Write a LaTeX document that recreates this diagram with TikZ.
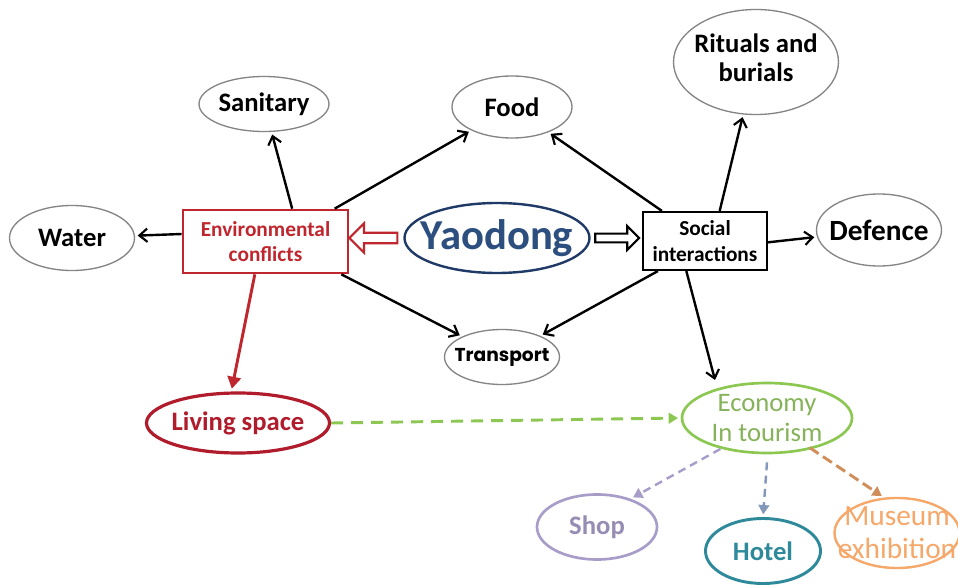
\documentclass[tikz,border=0pt]{standalone}
\usepackage{fontspec}
\setmainfont{Carlito}
\newfontfamily\gothic{Poppins}
\usetikzlibrary{shapes.geometric,shapes.arrows,arrows.meta}
\definecolor{envred}{HTML}{C0262E}
\definecolor{livred}{HTML}{B01C2C}
\definecolor{yaoblue}{HTML}{1F3A66}
\definecolor{yaotext}{HTML}{2C4F80}
\definecolor{ecogreen}{HTML}{8CC751}
\definecolor{ecotext}{HTML}{86B35A}
\definecolor{shopc}{HTML}{A89CC8}
\definecolor{hotelc}{HTML}{2E8A9A}
\definecolor{museumc}{HTML}{F5A86A}
\definecolor{ellgray}{HTML}{858585}
\tikzset{
  ell/.style={ellipse, draw=ellgray, line width=1pt, inner sep=0pt},
  lbl/.style={font=\fontsize{20pt}{22pt}\selectfont\bfseries, align=center, inner sep=0pt},
  conn/.style={line width=1.8pt, -{Straight Barb[length=6pt,width=10pt,line width=1.6pt]}, shorten >=2pt},
  dconn/.style={line width=2.2pt, dash pattern=on 9pt off 6pt, -{Triangle[length=7pt,width=8pt]}, shorten >=2pt},
}
\begin{document}
\begin{tikzpicture}[x=0.75pt,y=-0.75pt]
\useasboundingbox (0,0) rectangle (958,585);
\fill[white] (0,0) rectangle (958,585);
% top nodes
\node[ell, minimum width=97.5pt, minimum height=41.25pt, label={[lbl]center:Sanitary}] (san) at (264,104) {};
\node[ell, minimum width=90pt, minimum height=46.5pt, label={[lbl]center:Food}] (food) at (512,107) {};
\node[ell, minimum width=123.75pt, minimum height=78.75pt, label={[lbl,yshift=3pt]center:Rituals and\\burials}] (rit) at (756,62) {};
\node[ell, minimum width=93.75pt, minimum height=48.75pt, label={[lbl]center:Water}] (water) at (72,238) {};
\node[ell, minimum width=93.75pt, minimum height=54pt, label={[lbl,font=\fontsize{22pt}{24pt}\selectfont\bfseries]center:Defence}] (def) at (879,230) {};
\node[ell, minimum width=86.25pt, minimum height=41.25pt, label={[lbl,font=\gothic\fontsize{14pt}{16pt}\selectfont\bfseries]center:Transport}] (trans) at (502,357) {};
% central nodes
\node[draw=envred, line width=2pt, minimum width=123.75pt, minimum height=47.25pt, inner sep=0pt,
      label={[lbl,font=\fontsize{16pt}{19pt}\selectfont\bfseries,text=envred]center:Environmental\\conflicts}] (env) at (265.5,241.5) {};
\node[ellipse, draw=yaoblue, line width=1.8pt, minimum width=138.75pt, minimum height=52.5pt, inner sep=0pt,
      label={[lbl,font=\fontsize{32pt}{34pt}\selectfont\bfseries,text=yaotext]center:Yaodong}] (yao) at (497,238) {};
\node[draw=black, line width=1.6pt, minimum width=93pt, minimum height=43.5pt, inner sep=0pt,
      label={[lbl,font=\fontsize{16pt}{19pt}\selectfont\bfseries]center:Social\\interactions}] (soc) at (705,241) {};
% lower nodes
\node[ellipse, draw=livred, line width=2.4pt, minimum width=137.25pt, minimum height=45pt, inner sep=0pt,
      label={[lbl,text=livred]center:Living space}] (liv) at (238,423) {};
\node[ellipse, draw=ecogreen, line width=2pt, minimum width=127.5pt, minimum height=52.5pt, inner sep=0pt,
      label={[lbl,font=\fontsize{20pt}{22pt}\selectfont,text=ecotext]center:Economy\\In tourism}] (eco) at (767,418) {};
\node[ellipse, draw=shopc, line width=2pt, minimum width=90pt, minimum height=48.75pt, inner sep=0pt,
      label={[lbl,text=shopc!90!black]center:Shop}] (shop) at (597,527) {};
\node[ellipse, draw=hotelc, line width=2.2pt, minimum width=86.25pt, minimum height=48.75pt, inner sep=0pt,
      label={[lbl,text=hotelc]center:Hotel}] (hotel) at (763,551) {};
\node[ellipse, draw=museumc, line width=1.8pt, minimum width=93.75pt, minimum height=52.5pt, inner sep=0pt,
      label={[lbl,font=\fontsize{22pt}{25pt}\selectfont,text=museumc]center:Museum\\exhibition}] (mus) at (897,533) {};
% hollow arrows
\node[single arrow, draw=envred, fill=white, line width=1.6pt, shape border rotate=180,
      minimum height=36pt, minimum width=22pt, single arrow head extend=5pt, inner sep=2pt] (harr1) at (376,238) {};
\node[single arrow, draw=black, fill=white, line width=1.6pt,
      minimum height=33pt, minimum width=18pt, single arrow head extend=4pt, inner sep=1.5pt] (harr2) at (615,238) {};
% connectors from environmental conflicts
\draw[conn] (env.west |- 0,234) -- (water);
\draw[conn] ([xshift=20pt]env.north) -- (san);
\draw[conn] ([xshift=-11pt]env.north east) -- (food);
\draw[conn] ([xshift=-6pt]env.south east) -- (trans);
\draw[conn, envred, line width=2.2pt, -{Triangle[length=9pt,width=10pt]}] ([xshift=-8pt]env.south) -- ([xshift=-5pt]liv.north);
% connectors from social interactions
\draw[conn] ([xshift=15pt]soc.north west) -- (food);
\draw[conn] ([xshift=11pt]soc.north) -- (rit);
\draw[conn] ([yshift=-1pt]soc.east) -- (def);
\draw[conn] ([xshift=12pt]soc.south west) -- (trans);
\coordinate (ecotip) at (715,380);
\draw[conn, shorten >=0pt] ([xshift=-14pt]soc.south) -- (ecotip);
% dashed connectors
\draw[dconn, ecogreen] (liv.east) -- (eco.west);
\draw[dconn, shopc, line width=1.8pt, dash pattern=on 6pt off 4pt] ([xshift=-35pt,yshift=4pt]eco.south) -- (shop.40);
\draw[dconn, shopc!70!hotelc, line width=1.8pt, dash pattern=on 6pt off 4pt] ([yshift=-6pt]eco.south) -- (hotel.north);
\draw[dconn, museumc!85!black, line width=2.2pt, dash pattern=on 8pt off 4pt] ([xshift=32pt,yshift=5pt]eco.south) -- (mus.110);
\end{tikzpicture}
\end{document}
